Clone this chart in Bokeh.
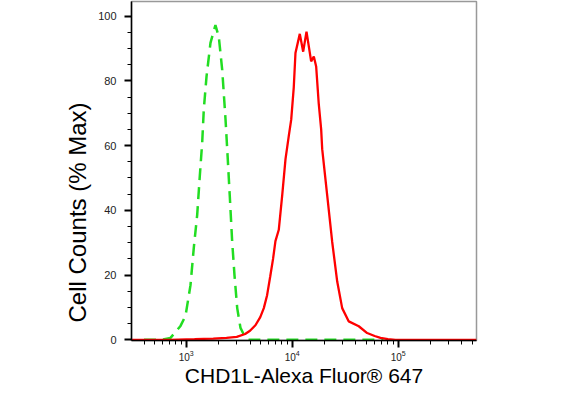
from bokeh.plotting import figure
from bokeh.models import FixedTicker, SingleIntervalTicker, Title, Range1d
from bokeh.embed import file_html
from bokeh.resources import INLINE

# Isotype control (green dashed)
green_x = [400, 573, 711, 884, 985, 1098, 1180, 1270, 1344, 1416, 1466, 1555, 1695,
           1887, 2030, 2187, 2350, 2468, 2577, 2715, 2855, 3030, 3253, 3626, 3876, 72600]
green_y = [0, 0, 0.6, 4.3, 7.4, 16.9, 28.5, 38.6, 50.6, 61.0, 71.2, 81.3, 91.7,
           97.2, 93.6, 83.4, 68.1, 55.8, 44.5, 30.4, 20.0, 9.8, 3.7, 0.6, 0, 0]

# CHD1L stained (red solid)
red_x = [305, 700, 1200, 1800, 2400, 3000, 3600, 4000, 4500, 5000, 5400, 5800, 6200,
         6600, 6950, 7475, 8050, 8650, 9290, 9790, 10350, 10740, 11800, 12700, 13650,
         15100, 16000, 16840, 17800, 18770, 19200, 21400, 23840, 26600, 29630, 34200,
         42500, 51000, 60000, 68100, 80000, 94400, 548000]
red_y = [0, 0, 0.2, 0.4, 0.6, 0.9, 1.8, 2.8, 4.5, 7.0, 9.8, 13.8, 19.5,
         25.0, 30.5, 34.0, 44.6, 55.8, 63.0, 68.0, 78.0, 88.6, 94.5, 89.0, 95.2,
         86.0, 87.5, 84.4, 73.0, 65.0, 58.9, 44.6, 30.3, 18.0, 9.8, 5.7,
         4.2, 2.1, 1.2, 0.6, 0.2, 0, 0]

x_major = [1e3, 1e4, 1e5]
x_label = "CHD1L-Alexa Fluor® 647"
y_label = "Cell Counts (% Max)"

x_lo, x_hi = 10 ** 2.484, 10 ** 5.739
y_lo, y_hi = -0.2, 104.5

p = figure(width=563, height=389, x_axis_type="log",
           x_range=Range1d(x_lo, x_hi), y_range=Range1d(y_lo, y_hi),
           output_backend="svg", toolbar_location=None,
           min_border_left=131, min_border_right=87, min_border_top=1,
           min_border_bottom=46)
p.grid.visible = False
p.background_fill_color = "white"
p.outline_line_color = "#999999"
p.outline_line_width = 1.5

minor = [k * 10 ** d for d in range(2, 6) for k in range(2, 10) if x_lo <= k * 10 ** d <= x_hi]
p.xaxis.ticker = FixedTicker(ticks=x_major, minor_ticks=minor)
p.yaxis.ticker = SingleIntervalTicker(interval=20, num_minor_ticks=4)

for ax in (p.xaxis[0], p.yaxis[0]):
    ax.axis_line_color = "black"
    ax.axis_line_width = 1.5
    ax.major_tick_line_color = "black"
    ax.minor_tick_line_color = "black"
    ax.major_tick_line_width = 2
    ax.minor_tick_line_width = 1
    ax.major_tick_in = 0
    ax.minor_tick_in = 0
    ax.major_label_text_font = "Liberation Sans"
    ax.major_label_text_color = "#222222"

p.xaxis.major_label_text_font_size = "10px"
p.yaxis.major_label_text_font_size = "11px"

p.xaxis.major_tick_out = 7
p.xaxis.minor_tick_out = 4
p.xaxis.major_label_standoff = 2
p.xaxis.axis_label = x_label
p.xaxis.axis_label_text_font = "Liberation Sans"
p.xaxis.axis_label_text_font_size = "21px"
p.xaxis.axis_label_text_font_style = "normal"
p.xaxis.axis_label_text_color = "black"
p.xaxis.axis_label_standoff = 0

p.yaxis.major_tick_out = 7
p.yaxis.minor_tick_out = 4
p.yaxis.major_label_standoff = 8

p.line(green_x, green_y, line_color="#22dd22", line_width=2.5, line_dash="12 7")
p.line(red_x, red_y, line_color="#ff0000", line_width=2.3)

p.add_layout(Title(text=y_label, align="left", offset=18,
                   text_font="Liberation Sans", text_font_size="24px",
                   text_font_style="normal", text_color="black"), "left")

open("out.html", "w").write(file_html(p, INLINE))
